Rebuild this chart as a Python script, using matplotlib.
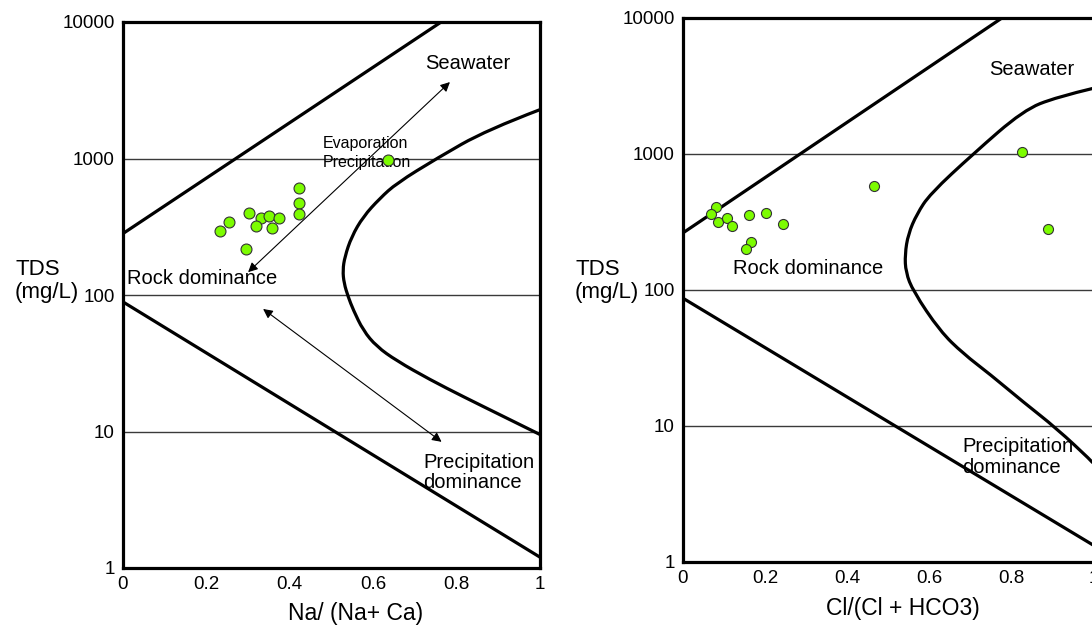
import numpy as np
import matplotlib
matplotlib.use('Agg')
import matplotlib.pyplot as plt
from matplotlib.ticker import NullLocator
from matplotlib.path import Path
from matplotlib.patches import PathPatch

plt.rcParams['font.family'] = ['Liberation Sans', 'DejaVu Sans']

# --- samples ---
na_ratio = [0.636, 0.422, 0.422, 0.422, 0.302, 0.255, 0.233, 0.331, 0.350, 0.374, 0.318, 0.357, 0.295]
tds_na = [975, 608, 472, 392, 399, 343, 294, 366, 379, 366, 320, 310, 217]

cl_ratio = [0.825, 0.464, 0.888, 0.081, 0.069, 0.084, 0.107, 0.119, 0.161, 0.202, 0.243, 0.166, 0.153]
tds_cl = [1043, 582, 280, 406, 363, 316, 336, 295, 357, 369, 308, 226, 200]

# --- Gibbs boundaries ---
na_upper_x = [0, 0.763]
na_upper_y = [282, 10000]
na_lower_x = [0, 1]
na_lower_y = [89, 1.2]
na_curve_x = [1.0, 0.872, 0.752, 0.656, 0.616, 0.576, 0.548, 0.532, 0.527, 0.530, 0.540,
              0.552, 0.576, 0.608, 0.656, 0.736, 0.816, 0.912, 1.0]
na_curve_y = [2280, 1618, 1000, 658, 511, 375, 267, 191, 152, 122, 97,
              78, 55, 42, 33, 24, 18, 12.9, 9.5]

cl_upper_x = [0, 0.776]
cl_upper_y = [263, 10000]
cl_lower_x = [0, 1]
cl_lower_y = [87, 1.32]
cl_curve_x = [1.0, 0.909, 0.828, 0.706, 0.601, 0.569, 0.548, 0.540, 0.542, 0.560,
              0.625, 0.682, 0.747, 0.828, 0.909, 0.995, 1.0]
cl_curve_y = [3050, 2624, 2094, 1002, 508, 362, 258, 183, 135, 98,
              50, 34, 24, 15, 9.6, 5.5, 5.2]

xticks = [0, 0.2, 0.4, 0.6, 0.8, 1]
xtick_labels = ['0', '0.2', '0.4', '0.6', '0.8', '1']
yticks = [1, 10, 100, 1000, 10000]
ytick_labels = ['1', '10', '100', '1000', '10000']


def smooth_boundary(ax, xs, ys, lw):
    # quadratic bezier through midpoints (midpoints taken in log space for y)
    verts = [(xs[0], ys[0])]
    codes = [Path.MOVETO]
    for i in range(1, len(xs) - 1):
        mx = (xs[i] + xs[i + 1]) / 2
        my = np.sqrt(ys[i] * ys[i + 1])
        verts += [(xs[i], ys[i]), (mx, my)]
        codes += [Path.CURVE3, Path.CURVE3]
    verts.append((xs[-1], ys[-1]))
    codes.append(Path.LINETO)
    ax.add_patch(PathPatch(Path(verts, codes), fill=False, edgecolor='black', lw=lw))


W, H = 1092, 626
fig = plt.figure(figsize=(W / 100, H / 100), dpi=100)
ax1 = fig.add_axes([123 / W, 1 - 568 / H, 417 / W, 546 / H])
ax2 = fig.add_axes([683 / W, 1 - 562 / H, 411 / W, 544 / H])

lw_bound = 2.3
for ax in (ax1, ax2):
    ax.set_yscale('log')
    ax.set_xlim(0, 1)
    ax.set_ylim(1, 10000)
    ax.set_xticks(xticks)
    ax.set_xticklabels(xtick_labels)
    ax.set_yticks(yticks)
    ax.set_yticklabels(ytick_labels)
    ax.yaxis.set_minor_locator(NullLocator())
    ax.tick_params(axis='both', length=0, labelsize=13.5, pad=6)
    ax.grid(axis='y', color='#3a3a3a', lw=1.0)
    ax.set_axisbelow(True)
    for s in ax.spines.values():
        s.set_linewidth(2.3)
        s.set_color('black')

# left panel
ax1.plot(na_upper_x, na_upper_y, color='black', lw=lw_bound)
ax1.plot(na_lower_x, na_lower_y, color='black', lw=lw_bound)
smooth_boundary(ax1, na_curve_x, na_curve_y, lw_bound)
ax1.scatter(na_ratio, tds_na, s=62, c='#7CFC00', edgecolors='#333333', linewidths=0.8, zorder=5)

arrow = dict(arrowstyle='<|-|>', color='black', lw=0.8, mutation_scale=14, shrinkA=0, shrinkB=0)
ax1.annotate('', xy=(0.784, 3630), xytext=(0.30, 147), arrowprops=arrow)
ax1.annotate('', xy=(0.764, 8.4), xytext=(0.336, 79), arrowprops=arrow)

ax1.text(0.827, 5000, 'Seawater', fontsize=14.5, ha='center', va='center')
ax1.text(0.48, 1280, 'Evaporation', fontsize=11.5, ha='left', va='center')
ax1.text(0.48, 940, 'Precipitation', fontsize=11.5, ha='left', va='center')
ax1.text(0.01, 133, 'Rock dominance', fontsize=14.5, ha='left', va='center')
ax1.text(0.72, 5.0, 'Precipitation\ndominance', fontsize=14.5, ha='left', va='center', linespacing=1.1)

ax1.set_xlabel('Na/ (Na+ Ca)', fontsize=16.5)
ax1.xaxis.set_label_coords((356 - 123) / 417, -0.062)

# right panel
ax2.plot(cl_upper_x, cl_upper_y, color='black', lw=lw_bound)
ax2.plot(cl_lower_x, cl_lower_y, color='black', lw=lw_bound)
smooth_boundary(ax2, cl_curve_x, cl_curve_y, lw_bound)
ax2.scatter(cl_ratio, tds_cl, s=52, c='#7CFC00', edgecolors='#333333', linewidths=0.8, zorder=5)

ax2.text(0.849, 4200, 'Seawater', fontsize=14.5, ha='center', va='center')
ax2.text(0.122, 145, 'Rock dominance', fontsize=14.5, ha='left', va='center')
ax2.text(0.679, 5.9, 'Precipitation\ndominance', fontsize=14.5, ha='left', va='center', linespacing=1.1)

ax2.set_xlabel('Cl/(Cl + HCO3)', fontsize=16.5)
ax2.xaxis.set_label_coords((903 - 683) / 411, -0.064)

fig.text(15 / W, 1 - 281 / H, 'TDS\n(mg/L)', fontsize=16, ha='left', va='center', linespacing=1.15)
fig.text(575 / W, 1 - 281 / H, 'TDS\n(mg/L)', fontsize=16, ha='left', va='center', linespacing=1.15)

fig.savefig('out.png', dpi=100)
